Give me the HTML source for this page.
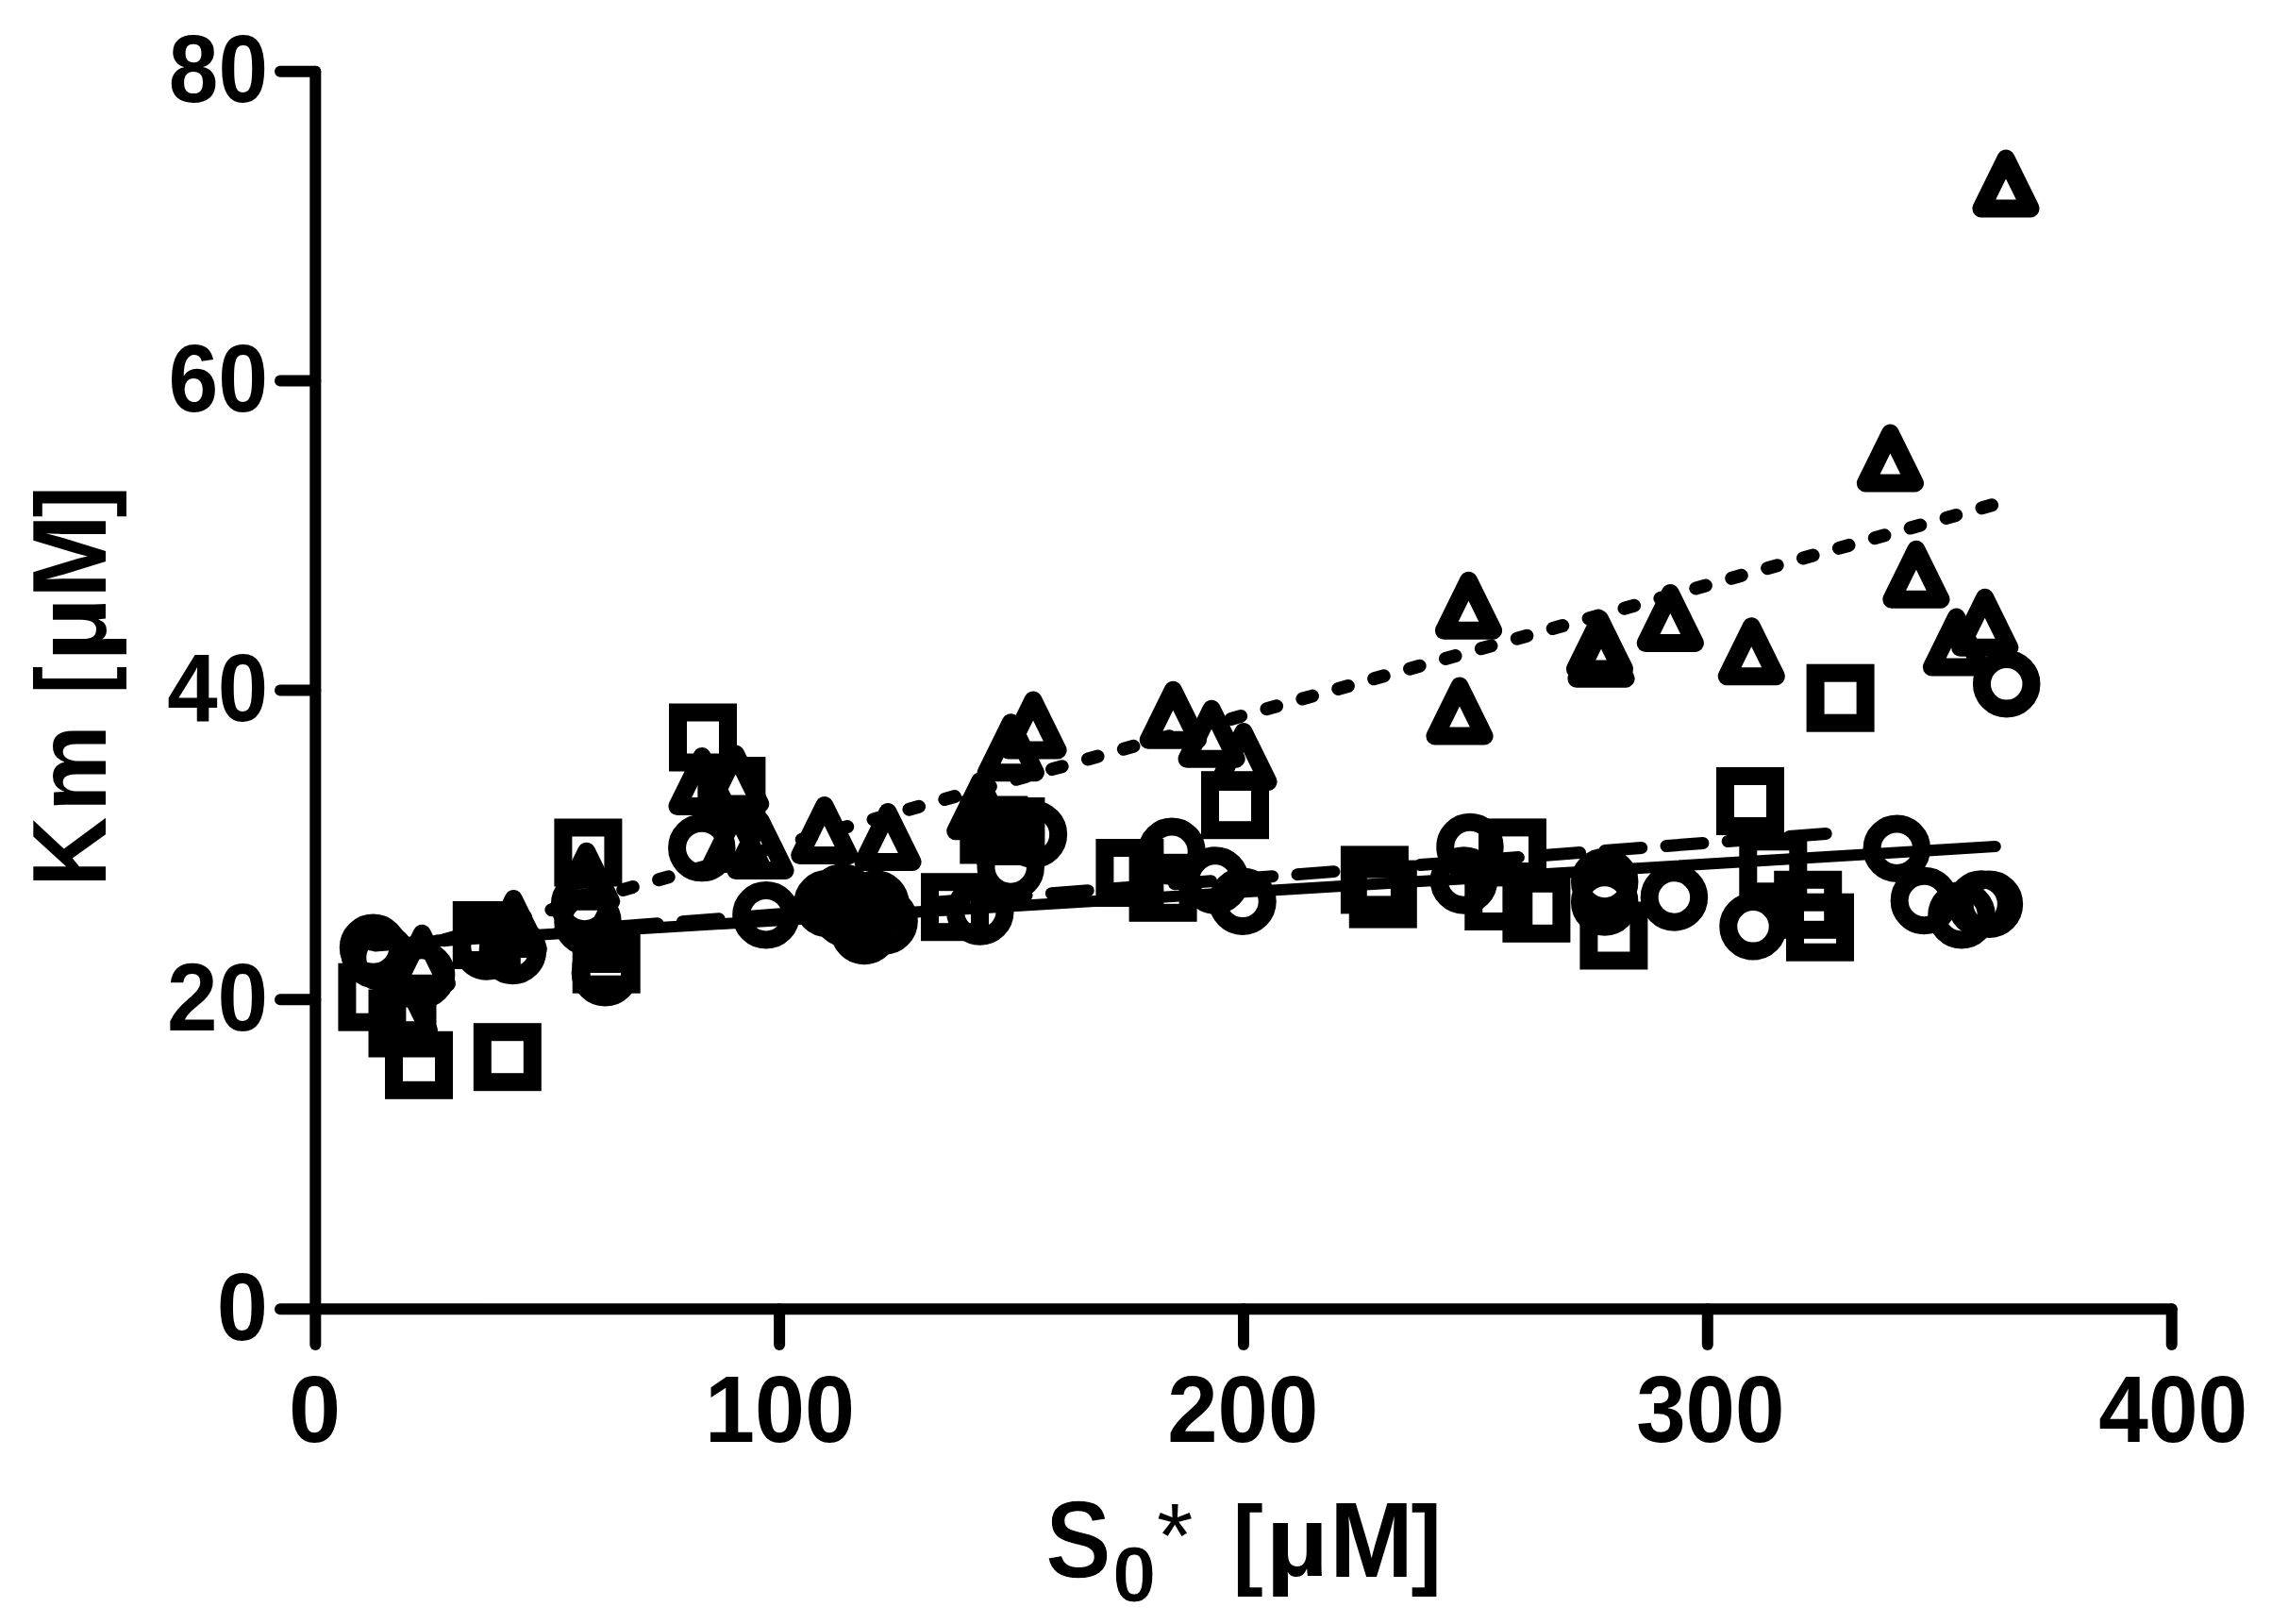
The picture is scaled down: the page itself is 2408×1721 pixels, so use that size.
<!DOCTYPE html>
<html lang="en"><head><meta charset="utf-8"><title>Km vs S0*</title>
<style>
html,body{margin:0;padding:0;background:#fff;}
body{width:2408px;height:1721px;overflow:hidden;}
svg{display:block;}
text{font-family:"Liberation Sans",Arial,Helvetica,sans-serif;font-weight:bold;fill:#000;}
.tick{font-size:100px;}
.lab{font-size:110px;}
.m{fill:none;stroke:#000;stroke-width:19;}
.t{stroke-linejoin:round;}
.ax{stroke:#000;stroke-width:12;stroke-linecap:round;fill:none;}
</style></head><body>
<svg width="2408" height="1721" viewBox="0 0 2408 1721">
<rect width="2408" height="1721" fill="#fff"/>
<g class="ax">
<path d="M334.3 75.8 V1425.0"/>
<path d="M297.0 1387.3 H2301.7"/>
<path d="M297 1059.2 H334.3"/>
<path d="M297 731.4 H334.3"/>
<path d="M297 403.6 H334.3"/>
<path d="M297 75.8 H334.3"/>
<path d="M826.1 1387.3 V1425"/>
<path d="M1318.0 1387.3 V1425"/>
<path d="M1809.8 1387.3 V1425"/>
<path d="M2301.7 1387.3 V1425"/>
</g>
<g font-size="100">
<text transform="translate(178.86 108.39) scale(0.9452 1.0113)">80</text>
<text transform="translate(178.38 436.19) scale(0.9498 1.0113)">60</text>
<text transform="translate(177.26 763.99) scale(0.9602 1.0113)">40</text>
<text transform="translate(176.93 1091.79) scale(0.9633 1.0113)">20</text>
<text transform="translate(229.80 1419.59) scale(0.9747 1.0113)">0</text>
<text transform="translate(305.93 1528.00) scale(0.9916 0.9972)">0</text>
<text transform="translate(747.01 1528.00) scale(0.9527 0.9972)">100</text>
<text transform="translate(1237.24 1528.00) scale(0.9599 0.9972)">200</text>
<text transform="translate(1734.14 1528.00) scale(0.9427 0.9972)">300</text>
<text transform="translate(2224.28 1528.00) scale(0.9467 0.9972)">400</text>
<text><tspan x="1107.84" y="1672.43" font-size="117.32" textLength="70.26" lengthAdjust="spacingAndGlyphs" stroke="#fff" stroke-width="1.40" paint-order="fill stroke">S</tspan><tspan x="1179.07" y="1696.76" font-size="83.80" textLength="46.37" lengthAdjust="spacingAndGlyphs" stroke="#fff" stroke-width="1.00" paint-order="fill stroke">0</tspan><tspan x="1226.02" y="1660.03" font-size="97.14" textLength="38.37" lengthAdjust="spacingAndGlyphs" font-weight="normal">*</tspan> <tspan x="1306.57" y="1670.10" font-size="106.20" textLength="32.30" lengthAdjust="spacingAndGlyphs">[</tspan><tspan x="1341.65" y="1670.24" font-size="105.54" textLength="66.07" lengthAdjust="spacingAndGlyphs">µ</tspan><tspan x="1409.28" y="1671.40" font-size="113.48" textLength="88.66" lengthAdjust="spacingAndGlyphs">M</tspan><tspan x="1495.53" y="1670.10" font-size="106.20" textLength="32.30" lengthAdjust="spacingAndGlyphs">]</tspan></text>
<text transform="translate(111.70 0) rotate(-90)"><tspan x="-940.08" y="0.00" font-size="110.87" textLength="74.23" lengthAdjust="spacingAndGlyphs">K</tspan><tspan x="-860.02" y="0.00" font-size="102.96" textLength="91.96" lengthAdjust="spacingAndGlyphs">m</tspan> <tspan x="-735.14" y="-0.18" font-size="106.10" textLength="29.28" lengthAdjust="spacingAndGlyphs">[</tspan><tspan x="-700.97" y="0.05" font-size="105.00" textLength="67.99" lengthAdjust="spacingAndGlyphs">µ</tspan><tspan x="-634.04" y="0.00" font-size="110.87" textLength="88.89" lengthAdjust="spacingAndGlyphs">M</tspan><tspan x="-548.62" y="-0.18" font-size="106.10" textLength="33.80" lengthAdjust="spacingAndGlyphs">]</tspan></text>
</g>
<path d="M393.3 1001.5 L2114.8 897.1" fill="none" stroke="#000" stroke-width="12" stroke-linecap="round"/>
<path d="M397.5 1001.9 L1949.5 882.4" fill="none" stroke="#000" stroke-width="13" stroke-linecap="round" stroke-dasharray="39 26.36"/>
<path d="M432.8 1006.8 L2129.6 530.1" fill="none" stroke="#000" stroke-width="14" stroke-linecap="round" stroke-dasharray="11 28.37"/>
<g class="m">
<circle cx="395.5" cy="1004.2" r="26.25"/>
<circle cx="397.5" cy="1011.5" r="26.25"/>
<circle cx="405.0" cy="1014.5" r="26.25"/>
<circle cx="446.6" cy="1033.0" r="26.25"/>
<circle cx="543.4" cy="1007.4" r="26.25"/>
<circle cx="516.0" cy="1003.0" r="26.25"/>
<circle cx="641.4" cy="1030.7" r="26.25"/>
<circle cx="619.5" cy="958.5" r="26.25"/>
<circle cx="623.0" cy="977.0" r="26.25"/>
<circle cx="743.8" cy="898.6" r="26.25"/>
<circle cx="811.9" cy="969.7" r="26.25"/>
<circle cx="916.0" cy="986.4" r="26.25"/>
<circle cx="877.0" cy="957.5" r="26.25"/>
<circle cx="937.1" cy="976.0" r="26.25"/>
<circle cx="908.0" cy="968.0" r="26.25"/>
<circle cx="928.0" cy="958.0" r="26.25"/>
<circle cx="893.0" cy="951.0" r="26.25"/>
<circle cx="897.0" cy="968.0" r="26.25"/>
<circle cx="1038.8" cy="966.0" r="26.25"/>
<circle cx="1095.4" cy="884.3" r="26.25"/>
<circle cx="1071.2" cy="919.0" r="26.25"/>
<circle cx="1242.0" cy="902.3" r="26.25"/>
<circle cx="1288.0" cy="933.0" r="26.25"/>
<circle cx="1317.0" cy="955.3" r="26.25"/>
<circle cx="1558.0" cy="897.5" r="26.25"/>
<circle cx="1551.5" cy="933.0" r="26.25"/>
<circle cx="1700.7" cy="934.4" r="26.25"/>
<circle cx="1700.7" cy="955.9" r="26.25"/>
<circle cx="1774.4" cy="951.0" r="26.25"/>
<circle cx="1858.0" cy="981.8" r="26.25"/>
<circle cx="2010.3" cy="899.2" r="26.25"/>
<circle cx="2039.4" cy="954.4" r="26.25"/>
<circle cx="2079.0" cy="969.7" r="26.25"/>
<circle cx="2108.4" cy="958.2" r="26.25"/>
<circle cx="2100.1" cy="957.9" r="26.25"/>
<circle cx="2126.7" cy="724.8" r="26.25"/>
<rect x="511.3" y="1093.7" width="53" height="53"/>
<rect x="417.5" y="1102.3" width="53" height="53"/>
<rect x="400.0" y="1058.0" width="53" height="53"/>
<rect x="367.9" y="1030.2" width="53" height="53"/>
<rect x="489.3" y="964.5" width="53" height="53"/>
<rect x="596.9" y="877.0" width="53" height="53"/>
<rect x="616.2" y="990.2" width="53" height="53"/>
<rect x="718.5" y="755.0" width="53" height="53"/>
<rect x="748.9" y="811.5" width="53" height="53"/>
<rect x="985.5" y="934.7" width="53" height="53"/>
<rect x="1026.8" y="853.0" width="53" height="53"/>
<rect x="1044.9" y="854.5" width="53" height="53"/>
<rect x="1282.5" y="826.7" width="53" height="53"/>
<rect x="1170.9" y="898.5" width="53" height="53"/>
<rect x="1206.1" y="914.3" width="53" height="53"/>
<rect x="1430.4" y="905.9" width="53" height="53"/>
<rect x="1439.3" y="921.1" width="53" height="53"/>
<rect x="1576.5" y="876.9" width="53" height="53"/>
<rect x="1561.8" y="923.5" width="53" height="53"/>
<rect x="1601.9" y="936.3" width="53" height="53"/>
<rect x="1683.9" y="965.0" width="53" height="53"/>
<rect x="1828.5" y="822.5" width="53" height="53"/>
<rect x="1852.8" y="891.8" width="53" height="53"/>
<rect x="1889.7" y="932.3" width="53" height="53"/>
<rect x="1902.5" y="956.2" width="53" height="53"/>
<rect x="1924.1" y="713.2" width="53" height="53"/>
</g><g class="m t">
<path d="M2126.0 168.0 L2152.1 221.0 L2099.9 221.0 Z"/>
<path d="M2003.4 459.1 L2029.5 512.1 L1977.3 512.1 Z"/>
<path d="M2030.9 582.3 L2057.0 635.3 L2004.8 635.3 Z"/>
<path d="M2103.7 633.3 L2129.8 686.3 L2077.6 686.3 Z"/>
<path d="M2073.5 654.0 L2099.6 707.0 L2047.4 707.0 Z"/>
<path d="M1856.3 663.7 L1882.4 716.7 L1830.2 716.7 Z"/>
<path d="M1770.3 628.5 L1796.4 681.5 L1744.2 681.5 Z"/>
<path d="M1695.5 656.0 L1721.6 709.0 L1669.4 709.0 Z"/>
<path d="M1697.0 666.3 L1723.1 719.3 L1670.9 719.3 Z"/>
<path d="M1556.5 615.3 L1582.6 668.3 L1530.4 668.3 Z"/>
<path d="M1547.0 727.1 L1573.1 780.1 L1520.9 780.1 Z"/>
<path d="M1243.3 731.2 L1269.4 784.2 L1217.2 784.2 Z"/>
<path d="M1284.1 751.2 L1310.2 804.2 L1258.0 804.2 Z"/>
<path d="M1318.0 775.5 L1344.1 828.5 L1291.9 828.5 Z"/>
<path d="M1095.0 742.0 L1121.1 795.0 L1068.9 795.0 Z"/>
<path d="M1071.3 765.7 L1097.4 818.7 L1045.2 818.7 Z"/>
<path d="M1038.8 827.8 L1064.9 880.8 L1012.7 880.8 Z"/>
<path d="M941.0 860.5 L967.1 913.5 L914.9 913.5 Z"/>
<path d="M873.8 853.5 L899.9 906.5 L847.7 906.5 Z"/>
<path d="M806.0 869.5 L832.1 922.5 L779.9 922.5 Z"/>
<path d="M780.0 862.5 L806.1 915.5 L753.9 915.5 Z"/>
<path d="M779.6 799.0 L805.7 852.0 L753.5 852.0 Z"/>
<path d="M744.0 801.5 L770.1 854.5 L717.9 854.5 Z"/>
<path d="M621.6 902.3 L647.7 955.3 L595.5 955.3 Z"/>
<path d="M642.0 968.5 L668.1 1021.5 L615.9 1021.5 Z"/>
<path d="M544.3 952.6 L570.4 1005.6 L518.2 1005.6 Z"/>
<path d="M447.3 989.2 L473.4 1042.2 L421.2 1042.2 Z"/>
<path d="M428.4 1038.8 L454.5 1091.8 L402.3 1091.8 Z"/>
</g>
</svg></body></html>
